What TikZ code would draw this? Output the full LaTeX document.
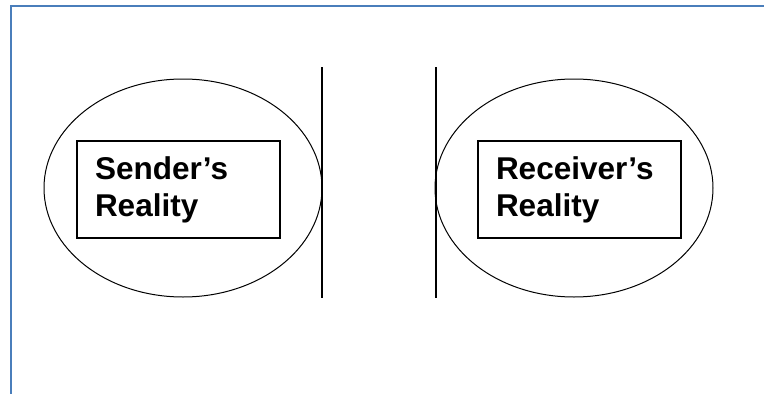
\documentclass[tikz,border=0pt]{standalone}
\usepackage{fontspec}
\setmainfont{Liberation Sans}
\usetikzlibrary{shapes.geometric}
\definecolor{Frame}{HTML}{4A7EBB}

\begin{document}
\begin{tikzpicture}[x=1pt,y=-1pt,
  reality/.style={draw,ellipse,line width=1pt,minimum width=278pt,minimum height=218pt,inner sep=0pt},
  box/.style={draw,line width=1.3pt,minimum width=203pt,minimum height=97pt,
    text width=167pt,inner xsep=18pt,align=left,font=\fontsize{31.5}{37}\selectfont\bfseries},
  wall/.style={line width=1.3pt}]
\useasboundingbox (0,0) rectangle (764,394);
\draw[Frame,line width=2pt] (764,6) -- (11,6) -- (11,394);
\node[reality](sender) at (183,188) {};
\node[reality](receiver) at (574,188) {};
\node[box](senderbox) at (178.5,189.5) {Sender’s\\Reality};
\node[box](receiverbox) at (579.5,189.5) {Receiver’s\\Reality};
\coordinate (swtop) at (322,67);
\coordinate (swbot) at (322,298);
\coordinate (rwtop) at (436,67);
\coordinate (rwbot) at (436,298);
\draw[wall](swtop)--(swbot);
\draw[wall](rwtop)--(rwbot);
\end{tikzpicture}
\end{document}
